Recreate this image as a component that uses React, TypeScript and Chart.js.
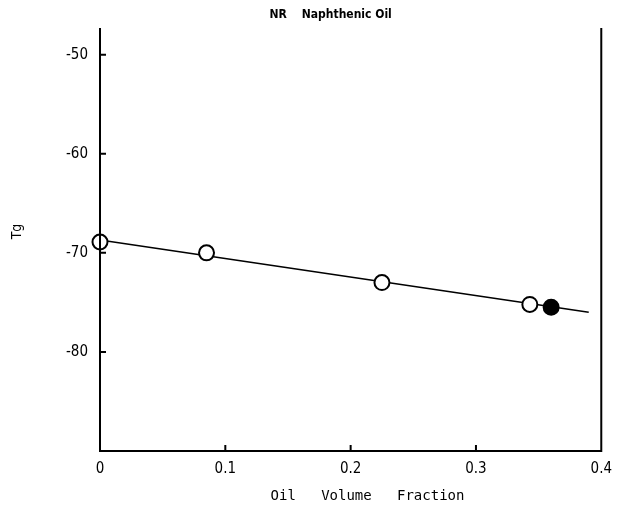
import React, { useEffect, useRef } from "react";
import { Chart, registerables } from "chart.js";

Chart.register(...registerables);

// Data
const openX = [0.0, 0.085, 0.225, 0.343];
const openY = [-68.9, -70.0, -73.0, -75.2];
const filledX = [0.36];
const filledY = [-75.5];
const fitX = [0.0, 0.39];
const fitY = [-68.7, -76.0];
const xTickValues = [0, 0.1, 0.2, 0.3, 0.4];
const yTickValues = [-50, -60, -70, -80];
const titleText = "NR    Naphthenic Oil";
const xTitle = "    Oil   Volume   Fraction";
const yTitle = "    Tg";

const FONT = '"Liberation Sans Narrow", "DejaVu Sans Condensed", "DejaVu Sans", sans-serif';
const MONO = '"DejaVu Sans Mono", "Liberation Mono", monospace';

const framePlugin = {
  id: "frame",
  afterDraw(chart: any) {
    const { ctx, chartArea } = chart;
    const xs = chart.scales.x;
    const ys = chart.scales.y;
    ctx.save();
    ctx.strokeStyle = "#000";
    ctx.lineWidth = 2;
    ctx.beginPath();
    ctx.moveTo(chartArea.left, chartArea.top);
    ctx.lineTo(chartArea.left, chartArea.bottom);
    ctx.lineTo(chartArea.right, chartArea.bottom);
    ctx.lineTo(chartArea.right, chartArea.top);
    ctx.stroke();
    ctx.beginPath();
    yTickValues.forEach((v) => {
      const y = ys.getPixelForValue(v);
      ctx.moveTo(chartArea.left, y);
      ctx.lineTo(chartArea.left + 6, y);
    });
    xTickValues.forEach((v) => {
      if (v === xs.min || v === xs.max) return;
      const x = xs.getPixelForValue(v);
      ctx.moveTo(x, chartArea.bottom);
      ctx.lineTo(x, chartArea.bottom - 6);
    });
    ctx.stroke();
    // title
    ctx.fillStyle = "#000";
    ctx.font = 'bold 12px ' + FONT;
    ctx.textAlign = "center";
    ctx.textBaseline = "middle";
    ctx.fillText(titleText, chartArea.left + (chartArea.right - chartArea.left) * 0.46, 15);
    ctx.restore();
  },
};

export default function App() {
  const ref = useRef<HTMLCanvasElement>(null);
  useEffect(() => {
    document.body.style.margin = "0";
    const chart = new Chart(ref.current as HTMLCanvasElement, {
      type: "scatter",
      data: {
        datasets: [
          {
            label: "fit",
            data: fitX.map((x, i) => ({ x, y: fitY[i] })),
            showLine: true,
            borderColor: "#000",
            borderWidth: 1.6,
            pointRadius: 0,
            order: 3,
            clip: false,
          },
          {
            label: "open",
            data: openX.map((x, i) => ({ x, y: openY[i] })),
            pointRadius: 7.5,
            pointBackgroundColor: "#fff",
            pointBorderColor: "#000",
            pointBorderWidth: 2,
            order: 2,
            clip: false,
          },
          {
            label: "filled",
            data: filledX.map((x, i) => ({ x, y: filledY[i] })),
            pointRadius: 7.5,
            pointBackgroundColor: "#000",
            pointBorderColor: "#000",
            pointBorderWidth: 2,
            order: 1,
            clip: false,
          },
        ],
      },
      options: {
        animation: false,
        responsive: false,
        maintainAspectRatio: false,
        layout: { padding: { left: 0, top: 28, right: 19, bottom: 0 } },
        plugins: { legend: { display: false }, tooltip: { enabled: false }, title: { display: false } },
        scales: {
          x: {
            type: "linear",
            min: 0,
            max: 0.4,
            grid: { display: false, drawTicks: false },
            border: { display: false },
            afterBuildTicks: (s: any) => {
              s.ticks = xTickValues.map((v) => ({ value: v }));
            },
            afterFit: (s: any) => {
              s.height = 76;
            },
            ticks: {
              padding: 9,
              color: "#000",
              font: { family: FONT, size: 15 },
              callback: (v: any) => (v === 0 ? "0" : Number(v).toFixed(1)),
            },
            title: {
              display: true,
              text: xTitle,
              color: "#000",
              font: { family: MONO, size: 14 },
              padding: { top: 0, bottom: 22 },
            },
          },
          y: {
            type: "linear",
            min: -90,
            max: -47.3,
            grid: { display: false, drawTicks: false },
            border: { display: false },
            afterBuildTicks: (s: any) => {
              s.ticks = yTickValues.map((v) => ({ value: v }));
            },
            afterFit: (s: any) => {
              s.width = 100;
            },
            ticks: {
              padding: 12,
              color: "#000",
              font: { family: FONT, size: 15 },
            },
            title: {
              display: true,
              text: yTitle,
              color: "#000",
              font: { family: FONT, size: 14 },
              padding: { top: 9, bottom: 0 },
            },
          },
        },
      },
      plugins: [framePlugin],
    } as any);
    return () => chart.destroy();
  }, []);
  return (
    <div style={{ position: "absolute", left: 0, top: 0, width: 621, height: 527, background: "#fff" }}>
      <canvas ref={ref} width={621} height={527} style={{ width: 621, height: 527, display: "block" }} />
    </div>
  );
}
